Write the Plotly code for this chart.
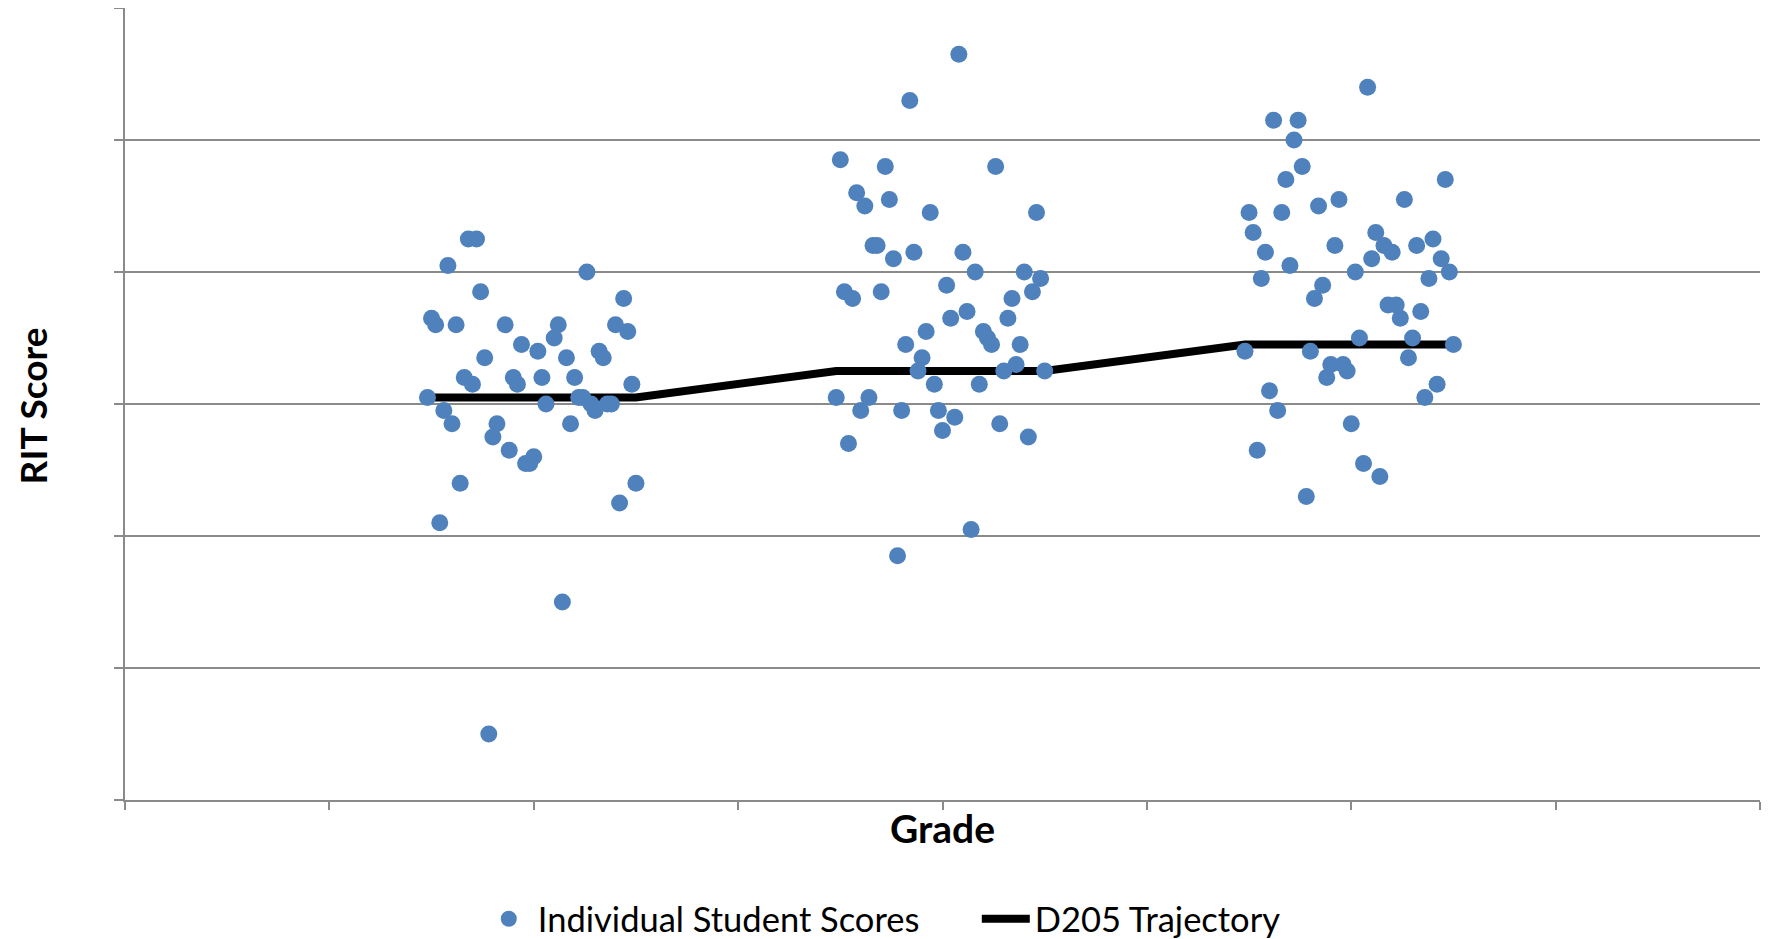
import plotly.graph_objects as go

# Individual student scores: grade 2 group (jittered x positions around x=2)
g1_x = [1.48, 1.50, 1.52, 1.54, 1.56, 1.58, 1.60, 1.62, 1.64, 1.66,
        1.68, 1.70, 1.72, 1.74, 1.76, 1.78, 1.80, 1.82, 1.86, 1.88,
        1.90, 1.92, 1.94, 1.96, 1.98, 2.00, 2.02, 2.04, 2.06, 2.10,
        2.12, 2.14, 2.16, 2.18, 2.20, 2.22, 2.24, 2.26, 2.28, 2.30,
        2.32, 2.34, 2.36, 2.38, 2.40, 2.42, 2.44, 2.46, 2.48, 2.50]
g1_y = [211, 223, 222, 192, 209, 231, 207, 222, 198, 214,
        235, 213, 235, 227, 217, 160, 205, 207, 222, 203,
        214, 213, 219, 201, 201, 202, 218, 214, 210, 220,
        222, 180, 217, 207, 214, 211, 211, 230, 210, 209,
        218, 217, 210, 210, 222, 195, 226, 221, 213, 198]

g2_x = [3.48, 3.50, 3.52, 3.54, 3.56, 3.58, 3.60, 3.62, 3.64, 3.66,
        3.68, 3.70, 3.72, 3.74, 3.76, 3.78, 3.80, 3.82, 3.84, 3.86,
        3.88, 3.90, 3.92, 3.94, 3.96, 3.98, 4.00, 4.02, 4.04, 4.06,
        4.08, 4.10, 4.12, 4.14, 4.16, 4.18, 4.20, 4.22, 4.24, 4.26,
        4.28, 4.30, 4.32, 4.34, 4.36, 4.38, 4.40, 4.42, 4.44, 4.46,
        4.48, 4.50]
g2_y = [211, 247, 227, 204, 226, 242, 209, 240, 211, 234,
        234, 227, 246, 241, 232, 187, 209, 219, 256, 233,
        215, 217, 221, 239, 213, 209, 206, 228, 223, 208,
        263, 233, 224, 191, 230, 213, 221, 220, 219, 246,
        207, 215, 223, 226, 216, 219, 230, 205, 227, 239,
        229, 215]

g3_x = [5.48, 5.50, 5.52, 5.54, 5.56, 5.58, 5.60, 5.62, 5.64, 5.66,
        5.68, 5.70, 5.72, 5.74, 5.76, 5.78, 5.80, 5.82, 5.84, 5.86,
        5.88, 5.90, 5.92, 5.94, 5.96, 5.98, 6.00, 6.02, 6.04, 6.06,
        6.08, 6.10, 6.12, 6.14, 6.16, 6.18, 6.20, 6.22, 6.24, 6.26,
        6.28, 6.30, 6.32, 6.34, 6.36, 6.38, 6.40, 6.42, 6.44, 6.46,
        6.48, 6.50]
g3_y = [218, 239, 236, 203, 229, 233, 212, 253, 209, 239,
        244, 231, 250, 253, 246, 196, 218, 226, 240, 228,
        214, 216, 234, 241, 216, 215, 207, 230, 220, 201,
        258, 232, 236, 199, 234, 225, 233, 225, 223, 241,
        217, 220, 234, 224, 211, 229, 235, 213, 232, 244,
        230, 219]

# D205 trajectory
traj_x = [1.48, 2.50, 3.48, 4.50, 5.48, 6.50]
traj_y = [211, 211, 215, 215, 219, 219]

scores_x = g1_x + g2_x + g3_x
scores_y = g1_y + g2_y + g3_y

FONT = "Lato"
GRID = "#8a8a8a"

fig = go.Figure()
fig.add_trace(go.Scatter(
    x=traj_x, y=traj_y, mode="lines", name="D205 Trajectory",
    line=dict(color="black", width=8), legendrank=2,
))
fig.add_trace(go.Scatter(
    x=scores_x, y=scores_y, mode="markers", name="Individual Student Scores",
    marker=dict(color="#4F81BD", size=17, line=dict(width=0)), legendrank=1,
))

# page has an 8px body margin, so the figure is 8px smaller than the window
fig.update_layout(
    width=1763, height=931,
    margin=dict(l=116.5, r=11, t=0, b=139, autoexpand=False),
    plot_bgcolor="white", paper_bgcolor="white",
    font=dict(family=FONT, color="black"),
    showlegend=True,
    legend=dict(
        orientation="h", x=0.217, xanchor="left", y=-0.150, yanchor="middle",
        font=dict(family=FONT, size=34.5, color="black"),
        bgcolor="rgba(0,0,0,0)", itemwidth=48,
        entrywidth=434, entrywidthmode="pixels",
    ),
    xaxis=dict(
        range=[0, 8], tick0=0, dtick=1, showgrid=False, zeroline=False,
        showline=True, linecolor=GRID, linewidth=1.5,
        ticks="outside", ticklen=8, tickwidth=1.5, tickcolor=GRID,
        showticklabels=False, automargin=False,
        title=dict(text="Grade", font=dict(family=FONT, size=39, weight="bold"), standoff=7),
    ),
    yaxis=dict(
        range=[150, 270], tick0=150, dtick=20, showgrid=True, gridcolor=GRID, gridwidth=1.5,
        zeroline=False, showline=True, linecolor=GRID, linewidth=1.5,
        ticks="outside", ticklen=9, tickwidth=1.5, tickcolor=GRID,
        showticklabels=False, automargin=False,
    ),
    annotations=[dict(
        text="RIT Score", textangle=-90, xref="paper", yref="paper",
        x=0, y=0.497, xanchor="center", yanchor="middle", xshift=-93,
        showarrow=False, font=dict(family=FONT, size=37, weight="bold", color="black"),
    )],
)

fig.write_html("out.html")
